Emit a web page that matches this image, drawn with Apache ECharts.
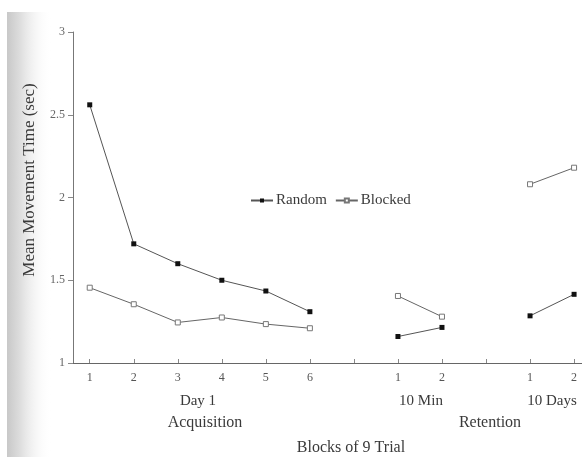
<!DOCTYPE html>
<html lang="en">
<head>
<meta charset="UTF-8">
<title>Mean Movement Time</title>
<script src="https://cdn.jsdelivr.net/npm/echarts@6/dist/echarts.min.js"></script>
<style>
  html, body { margin: 0; padding: 0; background: #fff; }
  #main { width: 582px; height: 457px; }
</style>
</head>
<body>
<div id="main"></div>
<script type="text/javascript">
// block labels along the x axis (empty = gap between sessions)
var tickLabels = ['1', '2', '3', '4', '5', '6', '', '1', '2', '', '1', '2'];
var randomTimes = [2.56, 1.72, 1.60, 1.50, 1.435, 1.31, null, 1.16, 1.215, null, 1.285, 1.415];
var blockedTimes = [1.455, 1.355, 1.245, 1.275, 1.235, 1.21, null, 1.405, 1.28, null, 2.08, 2.18];
var yTicks = [1, 1.5, 2, 2.5, 3];

var serif = '"Liberation Serif", "DejaVu Serif", serif';
var ink = '#3a3a3a';

function toPoints(arr) {
    return arr.map(function (v, i) { return v === null ? [i, '-'] : [i, v]; });
}

var myChart = echarts.init(document.getElementById('main'));
var option = {
    backgroundColor: '#fff',
    animation: false,
    grid: { left: 73, top: 32, right: 0, bottom: 94 },
    legend: {
        left: 245, top: 188,
        itemWidth: 22, itemHeight: 5, itemGap: 8,
        textStyle: { fontFamily: serif, fontSize: 15, color: ink, padding: [0, 0, 0, -2] },
        data: ['Random', 'Blocked']
    },
    xAxis: {
        type: 'value',
        min: -0.38, max: 11.18,
        splitLine: { show: false },
        axisLine: { lineStyle: { color: '#666', width: 1 } },
        axisTick: { inside: true, length: 4, customValues: tickLabels.map(function (l, i) { return i; }), lineStyle: { color: '#888' } },
        axisLabel: {
            customValues: tickLabels.map(function (l, i) { return i; }),
            formatter: function (v) { return tickLabels[Math.round(v)]; },
            fontFamily: serif, fontSize: 12, color: '#555', margin: 9
        }
    },
    yAxis: {
        type: 'value',
        min: 1, max: 3, interval: 0.5,
        splitLine: { show: false },
        axisLine: { show: true, onZero: false, lineStyle: { color: '#777', width: 1 } },
        axisTick: { show: true, length: 5, lineStyle: { color: '#888' } },
        axisLabel: {
            customValues: yTicks,
            fontFamily: serif, fontSize: 12, color: '#666', margin: 8
        }
    },
    graphic: [
        {
            type: 'rect', z: -10, silent: true,
            shape: { x: 7, y: 12, width: 45, height: 445 },
            style: {
                fill: new echarts.graphic.LinearGradient(0, 0, 1, 0, [
                    { offset: 0, color: '#c8c8c8' },
                    { offset: 0.3, color: '#dedede' },
                    { offset: 1, color: 'rgba(255,255,255,0)' }
                ])
            }
        },
        {
            type: 'text', x: 30, y: 180, rotation: Math.PI / 2,
            style: { text: 'Mean Movement Time (sec)', font: '17px ' + serif, fill: ink, align: 'center', verticalAlign: 'middle' }
        },
        { type: 'text', x: 198, y: 401, style: { text: 'Day 1', font: '15px ' + serif, fill: ink, align: 'center', verticalAlign: 'middle' } },
        { type: 'text', x: 421, y: 401, style: { text: '10 Min', font: '15px ' + serif, fill: ink, align: 'center', verticalAlign: 'middle' } },
        { type: 'text', x: 552, y: 401, style: { text: '10 Days', font: '15px ' + serif, fill: ink, align: 'center', verticalAlign: 'middle' } },
        { type: 'text', x: 205, y: 423, style: { text: 'Acquisition', font: '16px ' + serif, fill: ink, align: 'center', verticalAlign: 'middle' } },
        { type: 'text', x: 490, y: 423, style: { text: 'Retention', font: '16px ' + serif, fill: ink, align: 'center', verticalAlign: 'middle' } },
        { type: 'text', x: 351, y: 448, style: { text: 'Blocks of 9 Trial', font: '16px ' + serif, fill: ink, align: 'center', verticalAlign: 'middle' } }
    ],
    series: [
        {
            name: 'Random', type: 'line',
            data: toPoints(randomTimes),
            symbol: 'rect', symbolSize: 5,
            itemStyle: { color: '#111' },
            lineStyle: { color: '#555', width: 1 }
        },
        {
            name: 'Blocked', type: 'line',
            data: toPoints(blockedTimes),
            symbol: 'rect', symbolSize: 5,
            itemStyle: { color: '#fff', borderColor: '#777', borderWidth: 1 },
            lineStyle: { color: '#666', width: 1 }
        }
    ]
};
myChart.setOption(option);
</script>
</body>
</html>
